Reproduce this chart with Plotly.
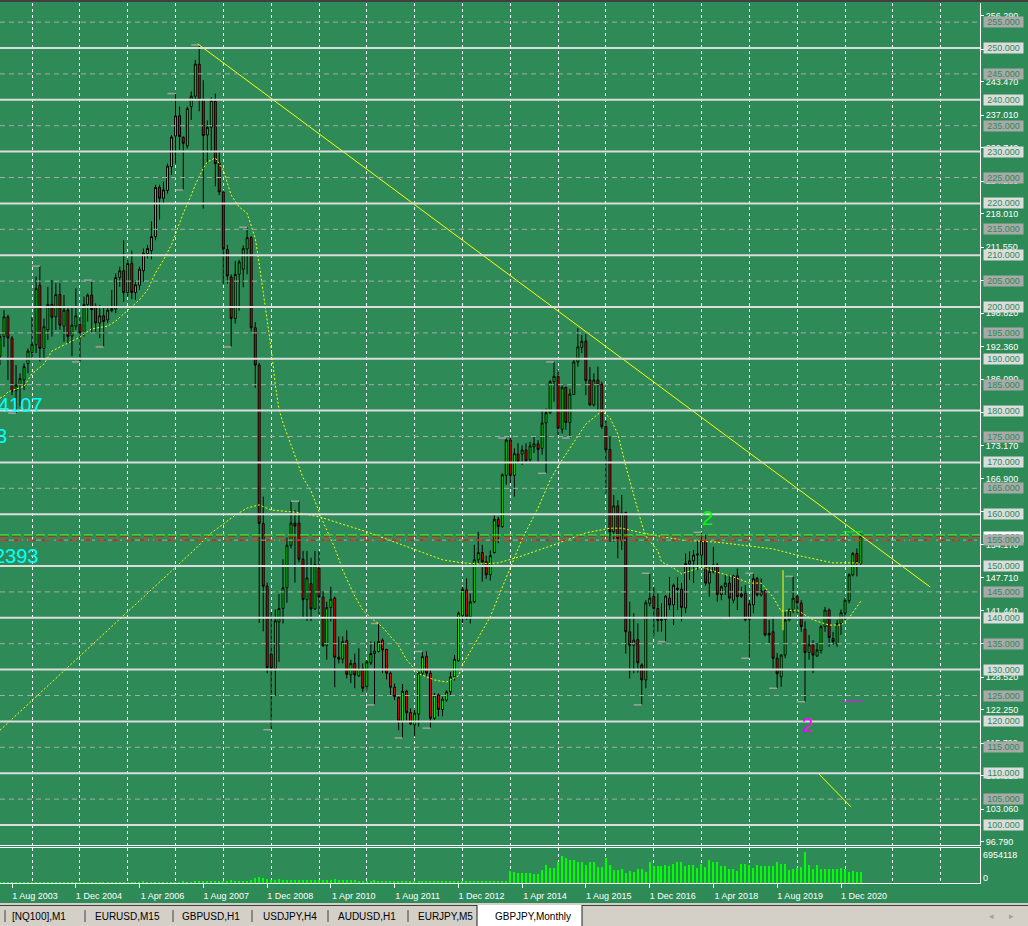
import pandas as pd
import plotly.graph_objects as go

# ---------------- DATA ----------------
months = pd.date_range("2003-05-01", "2021-05-01", freq="MS")

# monthly candles (open, high, low, close)
ohlc_2003 = [(190.5, 194.8, 188.8, 194.3), (194.3, 199.4, 192.3, 198.1), (198.1, 198.5, 185.9, 194.0),
             (194.0, 194.4, 183.0, 183.7), (183.9, 188.8, 179.5, 184.9), (185.0, 187.2, 180.8, 186.2),
             (185.9, 189.1, 184.0, 188.5), (189.1, 192.0, 187.2, 191.5)]
ohlc_2004 = [(191.2, 198.1, 189.8, 192.8), (192.7, 205.9, 191.1, 203.6), (204.2, 207.9, 189.5, 192.0),
             (192.0, 197.8, 190.1, 196.2), (195.6, 203.9, 193.6, 200.5), (200.5, 205.2, 194.3, 198.0),
             (198.1, 204.6, 195.6, 202.4), (202.4, 204.6, 195.6, 196.5), (196.3, 202.3, 193.3, 199.4),
             (199.4, 200.1, 193.0, 194.3), (194.4, 200.1, 190.5, 196.5), (196.3, 203.6, 195.6, 198.3)]
ohlc_2005 = [(196.6, 198.1, 189.4, 195.0), (194.9, 202.0, 194.3, 200.5), (200.5, 202.6, 197.2, 202.3),
             (202.3, 205.2, 194.9, 199.5), (200.1, 200.7, 195.2, 196.9), (196.9, 200.4, 194.0, 198.3),
             (198.3, 200.1, 192.3, 197.2), (197.5, 200.1, 196.9, 199.4), (199.3, 203.3, 199.0, 199.7),
             (199.6, 206.5, 198.8, 205.7), (205.7, 207.8, 203.9, 207.0), (207.0, 212.9, 201.0, 202.8)]
ohlc_2006 = [(202.8, 209.1, 202.0, 208.4), (208.4, 210.9, 201.5, 202.8), (202.8, 205.2, 201.4, 204.3),
             (204.2, 207.8, 203.3, 207.3), (207.0, 211.3, 204.9, 210.4), (210.3, 212.0, 209.4, 211.3),
             (210.9, 216.5, 209.2, 213.6), (213.6, 223.6, 212.9, 223.1), (223.1, 223.6, 216.9, 221.0),
             (221.0, 224.2, 220.0, 222.6), (222.5, 227.7, 221.9, 227.2), (227.1, 233.2, 225.5, 232.8)]
ohlc_2007 = [(233.0, 241.2, 227.7, 236.9), (236.9, 238.7, 230.3, 232.9), (232.8, 232.9, 222.6, 231.6),
             (231.1, 238.7, 230.6, 238.3), (238.7, 241.6, 236.1, 240.7), (240.7, 247.7, 240.0, 246.9),
             (246.9, 250.6, 237.8, 240.0), (240.0, 243.8, 219.0, 233.1), (233.2, 236.0, 227.7, 234.7),
             (234.7, 240.5, 229.9, 239.9), (239.7, 241.2, 223.3, 227.7), (227.8, 230.0, 221.6, 222.2)]
ohlc_2008 = [(222.2, 222.5, 204.5, 211.2), (211.1, 212.0, 204.5, 206.0), (205.8, 206.3, 192.3, 197.8),
             (197.8, 208.9, 196.8, 206.3), (206.3, 209.1, 199.3, 208.7), (207.3, 211.9, 203.8, 211.3),
             (211.2, 215.4, 206.3, 213.4), (213.4, 213.7, 195.3, 196.0), (196.0, 197.1, 184.4, 188.8),
             (188.8, 189.2, 139.0, 158.2), (158.2, 163.4, 137.4, 146.1), (146.1, 146.8, 129.3, 130.4)]
ohlc_2009 = [(133.0, 141.1, 118.4, 130.2), (130.2, 141.6, 124.9, 139.4), (139.2, 144.6, 131.5, 141.8),
             (141.8, 151.3, 138.9, 145.8), (145.8, 155.5, 142.9, 154.0), (154.0, 162.5, 153.4, 158.3),
             (158.3, 160.8, 146.8, 157.7), (158.3, 162.5, 150.7, 151.3), (151.3, 152.9, 139.8, 143.5),
             (143.5, 152.9, 139.4, 147.7), (146.6, 151.6, 139.4, 141.7), (141.7, 152.9, 141.5, 150.3)]
ohlc_2010 = [(149.6, 152.9, 140.7, 144.0), (144.0, 145.1, 134.4, 134.6), (134.7, 143.1, 131.9, 142.0),
             (142.0, 146.0, 139.3, 143.6), (143.8, 144.1, 126.6, 132.4), (132.4, 136.4, 131.2, 132.0),
             (132.0, 136.4, 131.2, 135.4), (135.6, 137.6, 128.3, 129.1), (129.0, 131.9, 127.4, 131.2),
             (131.2, 133.1, 126.4, 129.0), (128.8, 134.1, 128.6, 130.2), (130.2, 131.2, 125.7, 126.4)]
ohlc_2011 = [(126.7, 131.8, 126.0, 131.5), (131.3, 135.4, 130.9, 133.1), (133.1, 135.4, 123.2, 133.6),
             (133.5, 138.9, 133.3, 135.4), (135.7, 136.0, 129.3, 133.8), (133.9, 134.0, 128.1, 129.3),
             (129.3, 129.6, 125.1, 126.6), (126.6, 127.3, 124.1, 124.8), (124.6, 124.8, 118.3, 120.1),
             (120.0, 127.2, 116.8, 125.8), (125.8, 126.1, 119.9, 121.7), (121.7, 122.5, 119.3, 119.5)]
ohlc_2012 = [(119.3, 122.2, 117.1, 121.6), (121.4, 129.6, 119.0, 129.4), (129.3, 133.5, 128.9, 132.5),
             (132.5, 133.5, 128.7, 129.3), (129.3, 130.0, 118.7, 120.6), (120.6, 125.5, 120.3, 125.1),
             (125.1, 125.4, 121.0, 122.3), (122.3, 124.8, 121.0, 124.3), (124.1, 126.0, 123.8, 125.7),
             (125.7, 129.6, 125.1, 128.6), (128.6, 132.8, 127.9, 132.0), (131.7, 141.2, 131.5, 140.9)]
ohlc_2013 = [(140.4, 146.0, 139.0, 145.5), (145.4, 147.6, 139.6, 140.2), (140.2, 144.7, 138.9, 143.1),
             (143.1, 154.1, 142.8, 151.2), (151.2, 156.6, 150.5, 152.6), (152.6, 154.1, 147.0, 150.8),
             (150.8, 152.0, 147.5, 148.3), (148.3, 153.0, 147.2, 152.0), (152.6, 159.8, 152.4, 159.0),
             (159.0, 159.5, 154.4, 157.6), (157.6, 167.9, 157.4, 167.6), (167.5, 174.7, 165.7, 174.3)]
ohlc_2014 = [(174.3, 174.8, 166.0, 167.5), (167.5, 172.7, 163.4, 171.7), (171.6, 173.7, 169.8, 170.2),
             (171.6, 173.3, 169.5, 172.4), (172.4, 173.7, 170.1, 170.3), (170.5, 174.0, 169.8, 173.2),
             (173.0, 175.1, 171.8, 173.6), (173.6, 174.3, 170.1, 172.5), (172.7, 180.2, 171.5, 177.6),
             (177.6, 180.4, 167.9, 179.6), (179.6, 185.9, 179.3, 185.6), (185.6, 189.4, 181.7, 186.6)]
ohlc_2015 = [(186.6, 187.8, 175.3, 176.6), (176.4, 184.9, 175.6, 184.5), (184.5, 184.6, 176.3, 177.7),
             (177.7, 184.2, 174.7, 183.2), (183.1, 189.8, 183.0, 189.4), (189.4, 195.9, 188.5, 192.3),
             (192.2, 194.6, 191.1, 193.4), (193.4, 194.9, 183.0, 185.8), (185.9, 188.4, 180.9, 181.1),
             (181.1, 187.2, 180.8, 185.9), (185.9, 188.5, 179.8, 184.9), (185.1, 185.6, 176.5, 176.9)]
ohlc_2016 = [(176.9, 178.0, 164.0, 172.4), (172.5, 175.0, 154.7, 156.6), (156.6, 163.7, 154.7, 161.6),
             (161.6, 162.7, 151.5, 155.3), (155.0, 163.7, 153.1, 160.2), (160.3, 160.5, 133.1, 137.3),
             (137.3, 143.1, 128.3, 134.7), (134.7, 140.9, 129.3, 135.7), (135.8, 138.9, 129.4, 131.3),
             (130.9, 131.2, 123.2, 128.0), (128.0, 143.4, 126.4, 142.9), (142.8, 148.6, 142.2, 143.8)]
ohlc_2017 = [(144.1, 146.0, 136.4, 141.8), (141.8, 144.7, 137.3, 139.5), (139.5, 142.8, 137.3, 139.7),
             (139.7, 144.4, 135.4, 144.2), (143.8, 147.9, 141.5, 142.5), (142.5, 146.6, 138.6, 146.3),
             (145.7, 147.9, 141.5, 145.5), (145.5, 146.7, 139.3, 142.0), (141.9, 152.4, 140.9, 150.5),
             (150.4, 152.8, 147.3, 151.0), (151.0, 153.1, 146.7, 152.1), (152.1, 155.0, 149.2, 152.3)]
ohlc_2018 = [(152.1, 156.5, 149.6, 154.9), (154.9, 156.0, 146.2, 146.7), (146.7, 150.2, 144.1, 148.9),
             (148.9, 153.7, 148.6, 150.2), (150.2, 150.6, 143.1, 144.5), (144.5, 146.3, 143.4, 146.0),
             (146.0, 148.3, 144.4, 146.7), (146.7, 148.3, 139.9, 143.8), (143.4, 148.3, 142.8, 148.1),
             (148.1, 149.5, 141.5, 144.1), (144.6, 146.0, 143.8, 144.1), (144.7, 146.3, 139.3, 139.6)]
ohlc_2019 = [(139.7, 143.5, 132.2, 142.7), (142.5, 148.6, 140.9, 147.6), (147.6, 147.9, 144.1, 144.4),
             (144.4, 147.6, 144.1, 145.2), (145.2, 145.4, 136.4, 136.7), (137.0, 139.6, 135.1, 136.7),
             (137.3, 140.2, 130.0, 132.2), (132.2, 133.2, 126.4, 129.2), (128.6, 133.0, 126.7, 132.8),
             (132.8, 141.2, 132.2, 139.6), (139.6, 141.8, 139.3, 141.5), (141.5, 148.0, 140.9, 143.8)]
ohlc_2020 = [(144.1, 144.4, 140.9, 142.9), (142.8, 143.4, 137.3, 138.3), (137.8, 139.3, 123.8, 133.3),
             (133.3, 136.7, 131.9, 134.8), (134.8, 135.7, 129.3, 132.8), (132.6, 135.1, 132.5, 133.8),
             (133.7, 138.6, 133.1, 138.3), (138.3, 142.1, 137.3, 141.5), (141.5, 141.8, 134.4, 136.2),
             (136.0, 137.3, 134.8, 135.4), (135.0, 139.6, 134.4, 138.9), (138.9, 141.6, 136.7, 141.0)]
ohlc_2021 = [(140.9, 143.9, 139.6, 143.4), (143.3, 148.6, 142.8, 148.3), (148.3, 152.7, 148.0, 152.4),
             (152.4, 153.4, 148.0, 150.6), (150.6, 156.3, 150.2, 155.8)]

candles = (ohlc_2003 + ohlc_2004 + ohlc_2005 + ohlc_2006 + ohlc_2007 + ohlc_2008 + ohlc_2009 +
           ohlc_2010 + ohlc_2011 + ohlc_2012 + ohlc_2013 + ohlc_2014 + ohlc_2015 + ohlc_2016 +
           ohlc_2017 + ohlc_2018 + ohlc_2019 + ohlc_2020 + ohlc_2021)
opens = [c[0] for c in candles]
highs = [c[1] for c in candles]
lows = [c[2] for c in candles]
closes = [c[3] for c in candles]

# monthly tick volumes
volume_2003_2013 = [
    60000, 60000, 70000, 70000, 60000, 60000, 60000, 70000,
    60000, 70000, 70000, 60000, 60000, 60000, 60000, 70000, 60000, 60000, 70000, 60000,
    60000, 60000, 70000, 70000, 60000, 70000, 60000, 60000, 70000, 60000, 70000, 60000,
    200000, 190000, 200000, 210000, 260000, 210000, 190000, 180000, 200000, 220000, 210000, 190000,
    210000, 220000, 260000, 210000, 220000, 230000, 300000, 520000, 390000, 380000, 420000, 350000,
    430000, 420000, 560000, 430000, 380000, 410000, 470000, 640000, 1020000, 1350000, 1100000, 820000,
    750000, 700000, 800000, 660000, 640000, 700000, 640000, 620000, 600000, 630000, 600000, 560000,
    620000, 600000, 640000, 600000, 900000, 700000, 640000, 600000, 580000, 560000, 520000, 500000,
    520000, 500000, 600000, 460000, 480000, 450000, 440000, 500000, 480000, 460000, 430000, 400000,
    440000, 420000, 430000, 400000, 460000, 420000, 400000, 380000, 360000, 380000, 420000, 430000,
    460000, 440000, 500000, 520000, 540000, 430000, 410000, 380000, 380000, 370000, 330000, 350000]
volume_2014_2021 = [
    2590000, 2435000, 2280000, 2148000, 2148000, 2148000, 1993000, 1993000, 2945000, 3919000, 3387000, 3387000,
    4583000, 6044000, 5601000, 5026000, 5159000, 4716000, 4583000, 3985000, 4583000, 4583000, 3542000, 3542000,
    5469000, 3985000, 2945000, 2945000, 3100000, 2214000, 2660000, 2369000, 3100000, 3100000, 2369000, 4583000,
    3830000, 3830000, 3697000, 3985000, 3697000, 4140000, 4583000, 4583000, 3830000, 3985000, 3985000, 3387000,
    4273000, 3542000, 5159000, 4583000, 4583000, 3830000, 3697000, 3100000, 3100000, 2657000, 4273000, 4140000,
    3985000, 3387000, 3985000, 3830000, 3830000, 3830000, 3830000, 4716000, 4140000, 4140000, 2945000, 3100000,
    3387000, 3542000, 6954118, 3985000, 3100000, 3985000, 3100000, 3100000, 3100000, 3100000, 3100000, 3387000,
    3100000, 2369000, 2657000, 2502000, 2502000]
volumes = volume_2003_2013 + volume_2014_2021

# moving averages (values read at monthly bars)
slow_ma_months = ["2003-02", "2003-05", "2004-05", "2005-05", "2006-05", "2007-06", "2007-10", "2008-04",
                  "2008-07", "2008-10", "2009-01", "2009-07", "2010-01", "2011-01", "2012-01", "2012-08",
                  "2013-01", "2013-05", "2013-10", "2014-03", "2014-12", "2015-08", "2016-02", "2016-05",
                  "2016-10", "2017-08", "2018-05", "2019-01", "2019-07", "2020-02", "2020-10", "2021-05"]
slow_ma_values = [116.2, 118.3, 126.9, 135.4, 144.0, 153.3, 156.4, 159.8, 161.2, 161.8, 160.8, 160.4,
                  159.5, 156.6, 153.2, 151.2, 150.6, 150.4, 150.6, 151.7, 154.1, 156.4, 157.3, 157.3,
                  156.4, 155.0, 154.6, 153.9, 153.3, 151.9, 150.6, 150.6]

fast_ma_months = ["2003-05", "2003-06", "2003-07", "2003-11", "2004-01", "2004-04", "2004-06", "2004-10",
                  "2005-01", "2005-04", "2005-08", "2005-10", "2006-01", "2006-04", "2006-06", "2006-08",
                  "2006-10", "2006-12", "2007-01", "2007-03", "2007-05", "2007-06", "2007-08", "2007-09",
                  "2007-11", "2008-01", "2008-03", "2008-05", "2008-07", "2008-08", "2008-09", "2008-10",
                  "2008-11", "2008-12", "2009-01", "2009-02", "2009-03", "2009-04", "2009-05", "2009-07",
                  "2009-09", "2009-11", "2010-01", "2010-02", "2010-05", "2010-07", "2010-10", "2010-12",
                  "2011-02", "2011-05", "2011-09", "2011-11", "2012-02", "2012-06", "2012-09", "2012-12",
                  "2013-01", "2013-04", "2013-06", "2013-08", "2013-10", "2014-01", "2014-04", "2014-08",
                  "2014-11", "2015-02", "2015-06", "2015-08", "2015-11", "2015-12", "2016-02", "2016-04",
                  "2016-06", "2016-08", "2016-10", "2016-11", "2017-02", "2017-03", "2017-06", "2017-08",
                  "2017-11", "2018-01", "2018-05", "2018-09", "2019-01", "2019-04", "2019-07", "2019-09",
                  "2020-01", "2020-05", "2020-09", "2020-12", "2021-02", "2021-05"]
fast_ma_values = [182.4, 182.8, 183.6, 184.7, 187.1, 189.0, 191.5, 193.1, 194.2, 195.8, 196.3, 197.3,
                  199.4, 201.4, 203.3, 206.6, 209.1, 212.0, 214.1, 218.1, 221.6, 223.6, 226.8, 228.0,
                  228.8, 226.4, 221.6, 219.3, 218.1, 215.6, 213.3, 208.3, 202.9, 197.5, 191.9, 185.0,
                  180.3, 177.6, 175.5, 171.2, 167.0, 164.5, 160.4, 158.5, 153.5, 149.2, 144.2, 141.5,
                  140.0, 138.2, 134.6, 131.9, 129.2, 128.0, 127.6, 128.8, 130.9, 134.8, 137.5, 140.2,
                  144.0, 149.8, 155.2, 161.2, 166.6, 170.5, 175.1, 177.4, 179.3, 179.9, 178.6, 175.5,
                  169.3, 163.5, 158.1, 155.8, 152.9, 150.8, 149.6, 148.5, 149.2, 149.8, 148.8, 147.9,
                  146.7, 146.7, 144.0, 141.3, 141.5, 139.6, 138.6, 138.6, 140.0, 143.2]

# fractal marks (short gray ticks at swing highs / lows)
fractal_months = ["2003-09", "2004-03", "2005-01", "2005-04", "2005-07", "2007-01", "2007-03", "2007-07",
                  "2008-03", "2008-07", "2009-01", "2009-08", "2011-03", "2011-04", "2011-10", "2012-03",
                  "2012-05", "2013-12", "2014-10", "2014-12", "2015-04", "2016-10", "2016-12", "2017-04",
                  "2018-01", "2018-08", "2019-01", "2019-02", "2019-08", "2019-12", "2020-03"]
fractal_prices = [179.5, 207.9, 189.4, 205.2, 192.3, 241.2, 222.6, 250.6, 192.3, 215.4, 118.4, 162.5,
                  123.2, 138.9, 116.8, 133.5, 118.7, 174.7, 167.9, 189.4, 174.7, 123.2, 148.6, 135.4,
                  156.5, 139.9, 132.2, 148.6, 126.4, 148.0, 123.8]

# drawn objects
trend_dates = ["2007-06-20", "2022-10-13"]
trend_prices = [250.8, 145.95]
small_trend_dates = ["2020-06-15", "2021-02-15"]
small_trend_prices = [109.85, 103.5]
vline_dates = ["2019-09-15", "2019-09-15"]
vline_prices = [149.2, 137.6]
green_mark_dates = ["2020-12-15", "2021-05-15"]
green_mark_prices = [156.6, 156.6]
magenta_mark_dates = ["2020-12-15", "2021-05-15"]
magenta_mark_prices = [123.9, 123.9]

solid_levels = [100, 110, 120, 130, 140, 150, 160, 170, 180, 190, 200, 210, 220, 230, 240, 250]
dashed_levels = [105, 115, 125, 135, 145, 155, 165, 175, 185, 195, 205, 215, 225, 235, 245, 255]
price_ticks = [96.79, 103.06, 109.52, 115.79, 122.25, 128.52, 134.98, 141.44, 147.71, 154.17, 160.44,
               166.90, 173.17, 179.63, 186.09, 192.36, 198.82, 205.09, 211.55, 218.01, 224.28, 230.74,
               237.01, 243.47, 249.74, 256.29]
bid_price = 155.9
ask_price = 155.0

date_label_dates = ["2003-08-01", "2004-12-01", "2006-04-01", "2007-08-01", "2008-12-01", "2010-04-01",
                    "2011-08-01", "2012-12-01", "2014-04-01", "2015-08-01", "2016-12-01", "2018-04-01",
                    "2019-08-01", "2020-12-01"]
date_label_texts = ["1 Aug 2003", "1 Dec 2004", "1 Apr 2006", "1 Aug 2007", "1 Dec 2008", "1 Apr 2010",
                    "1 Aug 2011", "1 Dec 2012", "1 Apr 2014", "1 Aug 2015", "1 Dec 2016", "1 Apr 2018",
                    "1 Aug 2019", "1 Dec 2020"]

tab_names = ["[NQ100],M1", "EURUSD,M15", "GBPUSD,H1", "USDJPY,H4", "AUDUSD,H1", "EURJPY,M5", "GBPJPY,Monthly"]

# ---------------- STYLE / LAYOUT ----------------
W, H = 1028, 926
PLOT_W, PLOT_H = 980, 880
BG = "#2E8B57"
F = "Liberation Sans, Arial, sans-serif"


def px(X):
    return X / PLOT_W


def py(Y):
    return (883 - Y) / PLOT_H


t0 = pd.Timestamp("2003-08-01")
px_per_day = 3.985 / 30.437
x_start = t0 - pd.Timedelta(days=12 / px_per_day)
x_end = x_start + pd.Timedelta(days=PLOT_W / px_per_day)
x_range = [x_start.strftime("%Y-%m-%d %H:%M"), x_end.strftime("%Y-%m-%d %H:%M")]

fig = go.Figure()

fig.add_trace(go.Candlestick(
    x=months, open=opens, high=highs, low=lows, close=closes,
    increasing=dict(line=dict(color="black", width=1), fillcolor="#00FF00"),
    decreasing=dict(line=dict(color="black", width=1), fillcolor="#FF0000"),
    xaxis="x", yaxis="y", hoverinfo="skip"))

# fractal tick marks: a short segment ending at the fractal bar
fx, fy = [], []
for m, p in zip(fractal_months, fractal_prices):
    d = pd.Timestamp(m + "-01")
    fx += [d - pd.DateOffset(months=2), d, None]
    fy += [p, p, None]
fig.add_trace(go.Scatter(x=fx, y=fy, mode="lines", line=dict(color="#A0A0A0", width=1.5),
                         xaxis="x", yaxis="y", connectgaps=False))

yellow = "#FFFF00"
fig.add_trace(go.Scatter(x=pd.to_datetime(slow_ma_months), y=slow_ma_values, mode="lines",
                         line=dict(color=yellow, width=1, dash="2px,2px"), xaxis="x", yaxis="y"))
fig.add_trace(go.Scatter(x=pd.to_datetime(fast_ma_months), y=fast_ma_values, mode="lines",
                         line=dict(color=yellow, width=1, dash="2px,2px"), xaxis="x", yaxis="y"))
fig.add_trace(go.Scatter(x=trend_dates, y=trend_prices, mode="lines",
                         line=dict(color=yellow, width=1), xaxis="x", yaxis="y"))
fig.add_trace(go.Scatter(x=small_trend_dates, y=small_trend_prices, mode="lines",
                         line=dict(color=yellow, width=1), xaxis="x", yaxis="y"))
fig.add_trace(go.Scatter(x=vline_dates, y=vline_prices, mode="lines",
                         line=dict(color=yellow, width=1), xaxis="x", yaxis="y"))
fig.add_trace(go.Scatter(x=green_mark_dates, y=green_mark_prices, mode="lines",
                         line=dict(color="#00FF00", width=1), xaxis="x", yaxis="y"))
fig.add_trace(go.Scatter(x=magenta_mark_dates, y=magenta_mark_prices, mode="lines",
                         line=dict(color="#FF00FF", width=1), xaxis="x", yaxis="y"))

fig.add_trace(go.Bar(x=months, y=volumes, marker=dict(color="#00FF00", line=dict(width=0)),
                     width=10 * 86400000, xaxis="x2", yaxis="y2", hoverinfo="skip"))

shapes = []
for lvl in dashed_levels:
    shapes.append(dict(type="line", xref="paper", x0=0, x1=1, yref="y", y0=lvl, y1=lvl,
                       line=dict(color="#A9A9A9", width=1, dash="5px,4px"), layer="above"))
for lvl in solid_levels:
    shapes.append(dict(type="line", xref="paper", x0=0, x1=1, yref="y", y0=lvl, y1=lvl,
                       line=dict(color="#DCDCDC", width=2), layer="above"))
# bid / ask lines
shapes.append(dict(type="line", xref="paper", x0=0, x1=1, yref="y", y0=ask_price, y1=ask_price,
                   line=dict(color="#FF0000", width=1, dash="8px,6px"), layer="above"))
shapes.append(dict(type="line", xref="paper", x0=0, x1=1, yref="y", y0=bid_price - 0.15, y1=bid_price - 0.15,
                   line=dict(color="#FF0000", width=1, dash="8px,4px"), layer="above"))
shapes.append(dict(type="line", xref="paper", x0=0, x1=1, yref="y", y0=bid_price + 0.1, y1=bid_price + 0.1,
                   line=dict(color="#3CFF3C", width=1, dash="9px,3px"), layer="above"))

# window frame / tab bar decoration
shapes.append(dict(type="rect", xref="paper", yref="paper", x0=0, x1=W / PLOT_W, y0=py(2), y1=py(0),
                   fillcolor="#404040", line=dict(width=0), layer="above"))
shapes.append(dict(type="rect", xref="paper", yref="paper", x0=0, x1=W / PLOT_W, y0=py(H), y1=py(903),
                   fillcolor="#D4D0C8", line=dict(width=0), layer="above"))
shapes.append(dict(type="line", xref="paper", yref="paper", x0=0, x1=px(477), y0=py(905.5), y1=py(905.5),
                   line=dict(color="#404040", width=1), layer="above"))
shapes.append(dict(type="line", xref="paper", yref="paper", x0=px(582), x1=W / PLOT_W, y0=py(905.5),
                   y1=py(905.5), line=dict(color="#404040", width=1), layer="above"))
shapes.append(dict(type="rect", xref="paper", yref="paper", x0=px(477), x1=px(582), y0=py(H), y1=py(905),
                   fillcolor="#FFFFFF", line=dict(width=0), layer="above"))
for X in [477, 582]:
    shapes.append(dict(type="line", xref="paper", yref="paper", x0=px(X), x1=px(X), y0=py(H), y1=py(905),
                       line=dict(color="#202020", width=1), layer="above"))
for X in [5, 85, 173, 252, 328, 408]:
    shapes.append(dict(type="line", xref="paper", yref="paper", x0=px(X), x1=px(X), y0=py(922), y1=py(910),
                       line=dict(color="#404040", width=1), layer="above"))

annotations = []
# bid price box (mostly hidden behind the 155 box)
annotations.append(dict(xref="paper", x=1, xanchor="left", xshift=3, yref="y", y=155.6,
                        yanchor="middle", text="155.862", showarrow=False, bgcolor="#FFFFFF",
                        font=dict(color=BG, size=9, family=F), width=39, height=10, borderpad=0))
for lvl in dashed_levels:
    annotations.append(dict(xref="paper", x=1, xanchor="left", xshift=3, yref="y", y=lvl, yanchor="middle",
                            text=f"{lvl:.3f}", showarrow=False, bgcolor="#A9A9A9",
                            font=dict(color=BG, size=9, family=F), width=39, height=10, borderpad=0))
for lvl in solid_levels:
    annotations.append(dict(xref="paper", x=1, xanchor="left", xshift=3, yref="y", y=lvl, yanchor="middle",
                            text=f"{lvl:.3f}", showarrow=False, bgcolor="#DCDCDC",
                            font=dict(color=BG, size=9, family=F), width=39, height=10, borderpad=0))
# volume window labels
annotations.append(dict(xref="paper", x=1, xanchor="left", xshift=1, yref="paper", y=py(855),
                        yanchor="middle", text="6954118", showarrow=False,
                        font=dict(color="white", size=9, family=F)))
annotations.append(dict(xref="paper", x=1, xanchor="left", xshift=1, yref="paper", y=py(877.5),
                        yanchor="middle", text="0", showarrow=False,
                        font=dict(color="white", size=9, family=F)))
# chart texts
for txt, d, p in [("4107", "2004-04-09", 181.0), ("3", "2003-07-08", 175.1), ("2393", "2004-03-09", 151.9)]:
    annotations.append(dict(xref="x", x=d, xanchor="right", yref="y", y=p, yanchor="middle", text=txt,
                            showarrow=False, font=dict(color="#00FFFF", size=20, family=F)))
annotations.append(dict(xref="x", x="2018-02-18", xanchor="center", yref="y", y=159.3, yanchor="middle",
                        text="2", showarrow=False, font=dict(color="#00FF00", size=20, family=F)))
annotations.append(dict(xref="x", x="2020-03-21", xanchor="center", yref="y", y=119.3, yanchor="middle",
                        text="2", showarrow=False, font=dict(color="#FF00FF", size=20, family=F)))
# tabs
tab_centers = [39, 127, 211, 290, 367, 445, 533]
for name, cx in zip(tab_names, tab_centers):
    annotations.append(dict(xref="paper", x=px(cx), xanchor="center", yref="paper", y=py(916),
                            yanchor="middle", text=name, showarrow=False,
                            font=dict(color="black", size=10, family=F)))
annotations.append(dict(xref="paper", x=px(991), xanchor="center", yref="paper", y=py(915.5), yanchor="middle",
                        text="◂", showarrow=False, font=dict(color="#A0A0A0", size=9, family="DejaVu Sans")))
annotations.append(dict(xref="paper", x=px(1011), xanchor="center", yref="paper", y=py(915.5), yanchor="middle",
                        text="▸", showarrow=False, font=dict(color="#A0A0A0", size=9, family="DejaVu Sans")))

grid = dict(showgrid=True, gridcolor="white", gridwidth=1, griddash="3px,3px", dtick="M12",
            tick0="2004-01-01")
minor_grid = dict(tickmode="linear", dtick="M12", tick0="2004-01-01", showgrid=True, gridcolor="white",
                  gridwidth=1, griddash="3px,3px", ticks="")

fig.update_layout(
    width=W, height=H, autosize=False,
    margin=dict(l=0, r=W - PLOT_W, t=3, b=H - 3 - PLOT_H, pad=0),
    paper_bgcolor=BG, plot_bgcolor=BG,
    showlegend=False, hovermode=False, boxgap=0.25, bargap=0,
    xaxis=dict(domain=[0, 1], anchor="y", type="date", range=x_range, showticklabels=False, ticks="",
               showline=True, linecolor="white", linewidth=1, zeroline=False,
               rangeslider=dict(visible=False), **grid),
    yaxis=dict(domain=[py(845), 1], anchor="x", side="right", range=[96.14, 258.69],
               tickmode="array", tickvals=price_ticks, tickformat=".3f", ticks="outside", ticklen=3,
               tickcolor="white", tickfont=dict(color="white", size=9, family=F), showgrid=False,
               showline=True, linecolor="white", linewidth=1, zeroline=False),
    xaxis2=dict(domain=[0, 1], anchor="y2", type="date", range=x_range,
                tickmode="array", tickvals=date_label_dates, ticktext=date_label_texts,
                ticks="outside", ticklen=4, tickcolor="white", ticklabelshift=23,
                tickfont=dict(color="white", size=9, family=F), showgrid=False, minor=minor_grid,
                showline=True, mirror=True, linecolor="white", linewidth=1, zeroline=False,
                rangeslider=dict(visible=False)),
    yaxis2=dict(domain=[0, py(848)], anchor="x2", side="right", range=[0, 7750000], showticklabels=False,
                ticks="", showgrid=False, showline=True, linecolor="white", linewidth=1, zeroline=False),
    shapes=shapes,
    annotations=annotations,
)

fig.write_html("out.html", config={"displayModeBar": False},
               post_script="document.body.style.margin='0px';document.body.style.overflow='hidden';")
